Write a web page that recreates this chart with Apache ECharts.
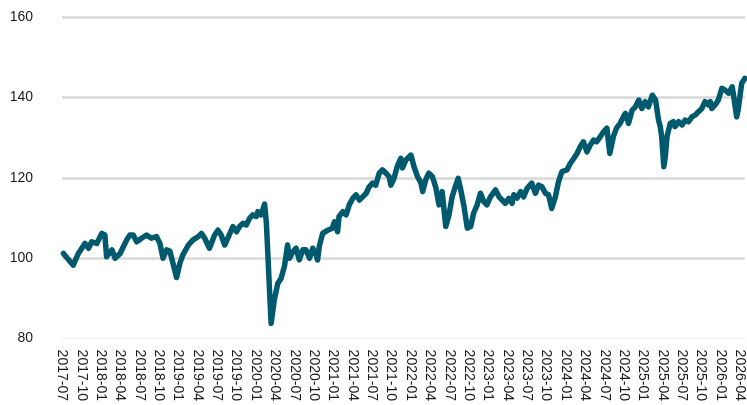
<!DOCTYPE html>
<html>
<head>
<meta charset="utf-8">
<script src="https://cdn.jsdelivr.net/npm/echarts@6/dist/echarts.min.js"></script>
<style>
html,body{margin:0;padding:0;background:#fff;}
#chart{width:747px;height:405px;}
</style>
</head>
<body>
<div id="chart"></div>
<script>
const dates = [
'2017-07-08','2017-08-02','2017-08-24','2017-09-17','2017-10-18','2017-11-04','2017-11-19','2017-12-13',
'2018-01-06','2018-01-21','2018-01-29','2018-02-22','2018-03-08','2018-04-01','2018-05-02','2018-05-17',
'2018-06-02','2018-06-18','2018-07-11','2018-08-04','2018-08-27','2018-09-20','2018-10-06','2018-10-21',
'2018-11-07','2018-11-22','2018-12-08','2018-12-24','2019-01-09','2019-01-23','2019-02-17','2019-03-10',
'2019-04-04','2019-04-19','2019-05-04','2019-05-27','2019-06-20','2019-07-06','2019-07-21','2019-08-07',
'2019-08-22','2019-09-15','2019-10-02','2019-10-16','2019-11-02','2019-11-17','2019-12-03','2019-12-18',
'2020-01-04','2020-01-11','2020-01-27','2020-02-12','2020-02-20','2020-02-27','2020-03-06','2020-03-13',
'2020-03-28','2020-04-14','2020-04-29','2020-05-15','2020-05-30','2020-06-08','2020-06-23','2020-07-09',
'2020-07-24','2020-08-10','2020-08-25','2020-09-11','2020-09-26','2020-10-12','2020-10-19','2020-10-27',
'2020-11-12','2020-12-06','2020-12-28','2021-01-07','2021-01-22','2021-01-29','2021-02-15','2021-03-01',
'2021-03-16','2021-04-02','2021-04-17','2021-05-03','2021-05-18','2021-06-04','2021-06-18','2021-07-04',
'2021-07-19','2021-08-05','2021-08-20','2021-09-06','2021-09-21','2021-09-29','2021-10-14','2021-10-29',
'2021-11-15','2021-11-23','2021-12-09','2022-01-02','2022-01-17','2022-02-03','2022-02-18','2022-02-25',
'2022-03-11','2022-03-26','2022-04-12','2022-04-27','2022-05-13','2022-05-28','2022-06-14','2022-06-29',
'2022-07-14','2022-07-29','2022-08-12','2022-08-23','2022-09-09','2022-09-24','2022-10-10','2022-10-24',
'2022-11-10','2022-11-25','2022-12-11','2022-12-26','2023-01-12','2023-02-05','2023-02-20','2023-03-06',
'2023-03-21','2023-04-07','2023-04-22','2023-04-30','2023-05-16','2023-06-02','2023-06-16','2023-07-02',
'2023-07-24','2023-08-11','2023-08-26','2023-09-11','2023-09-27','2023-10-12','2023-10-27','2023-11-13',
'2023-11-28','2023-12-14','2024-01-07','2024-01-23','2024-02-09','2024-02-23','2024-03-09','2024-03-24',
'2024-04-10','2024-04-25','2024-05-11','2024-05-26','2024-06-12','2024-06-27','2024-07-13','2024-07-27',
'2024-08-13','2024-08-28','2024-09-14','2024-09-29','2024-10-09','2024-10-24','2024-11-10','2024-11-25',
'2024-12-11','2024-12-26','2025-01-11','2025-01-26','2025-02-13','2025-02-27','2025-03-13','2025-03-21',
'2025-03-28','2025-04-07','2025-04-14','2025-04-22','2025-05-07','2025-05-22','2025-05-30','2025-06-16',
'2025-07-02','2025-07-17','2025-08-02','2025-08-18','2025-09-04','2025-09-18','2025-10-04','2025-10-19',
'2025-11-05','2025-11-13','2025-11-20','2025-12-06','2025-12-21','2026-01-07','2026-01-22','2026-02-08',
'2026-02-23','2026-03-01','2026-03-09','2026-03-16','2026-03-23','2026-04-09','2026-04-24'
];
const values = [
101.2,99.6,98.3,101.2,103.7,102.5,104.1,103.7,
106.2,105.8,100.4,102.1,100.0,101.2,104.6,105.8,
105.8,104.1,105.0,105.8,105.0,105.4,103.7,100.0,
102.1,101.8,98.5,95.2,98.8,100.8,103.3,104.6,
105.4,106.2,105.0,102.5,105.8,107.0,105.8,103.3,
105.0,107.9,106.6,107.9,108.7,108.3,110.0,110.8,
110.4,111.6,110.8,113.5,108.7,100.4,91.3,83.8,
89.6,93.8,95.0,98.0,103.3,100.0,101.6,102.5,
99.6,102.1,102.1,100.0,102.5,100.8,99.6,102.9,
106.2,107.0,107.5,109.1,106.6,110.4,111.6,110.8,
113.3,114.9,115.8,114.5,115.3,116.2,117.8,118.7,
118.2,121.2,122.0,121.2,120.3,118.2,119.9,122.8,
124.9,122.5,124.5,125.7,122.8,120.3,118.7,116.6,
119.5,121.2,120.3,117.8,113.3,116.6,107.9,110.8,
115.3,117.8,119.9,117.4,112.8,107.5,107.9,111.2,
113.3,116.2,114.1,113.3,115.3,117.0,115.3,114.5,
113.7,114.9,113.7,115.8,115.0,116.6,115.3,117.4,
118.7,116.2,118.2,117.8,116.2,115.8,112.4,115.3,
119.1,121.6,122.0,123.6,124.9,126.1,127.8,129.0,
126.5,128.2,129.4,129.0,130.3,131.5,132.4,126.1,
130.3,132.4,133.6,135.2,136.1,133.6,136.9,137.7,
139.4,137.3,139.0,137.7,140.6,139.4,134.4,132.8,
130.3,122.8,125.3,130.3,133.6,134.0,132.8,134.0,
133.2,134.4,134.0,135.2,135.7,136.5,137.3,139.0,
138.2,139.0,137.3,138.2,139.4,142.3,141.9,141.1,
142.7,140.6,137.7,135.2,136.9,143.6,144.8
];
const yTicks = [80, 100, 120, 140, 160];
const startYear = 2017, startMonth = 7;

function monthsSinceStart(s) {
  const [y, m, d] = s.split('-').map(Number);
  const dim = new Date(y, m, 0).getDate();
  return (y - startYear) * 12 + (m - startMonth) + (d - 1) / dim;
}
function monthLabel(v) {
  const r = Math.round(v);
  if (Math.abs(v - r) > 1e-6 || r % 3 !== 0) return '';
  const total = (startMonth - 1) + r;
  const y = startYear + Math.floor(total / 12);
  const m = total % 12 + 1;
  return y + '-' + (m < 10 ? '0' + m : m);
}
const seriesData = dates.map((d, i) => [monthsSinceStart(d), values[i]]);
const xMax = seriesData[seriesData.length - 1][0];

const chart = echarts.init(document.getElementById('chart'), null, {renderer: 'canvas'});
chart.setOption({
  animation: false,
  backgroundColor: '#ffffff',
  grid: {left: 62, right: 0, top: 17.3, bottom: 66.4, containLabel: false},
  xAxis: {
    type: 'value',
    min: 0,
    max: xMax,
    interval: 3,
    axisLine: {show: true, lineStyle: {color: '#eeeeee', width: 1}},
    axisTick: {show: false},
    splitLine: {show: false},
    axisLabel: {
      rotate: -90,
      margin: 11,
      fontSize: 14,
      fontFamily: 'Liberation Sans, Arial, sans-serif',
      color: '#1a1a1a',
      showMaxLabel: false,
      formatter: monthLabel
    }
  },
  yAxis: {
    type: 'value',
    min: yTicks[0],
    max: yTicks[yTicks.length - 1],
    interval: 20,
    axisLine: {show: false},
    axisTick: {show: false},
    splitLine: {show: true, showMinLine: false, lineStyle: {color: '#d9d9d9', width: 2.5}},
    axisLabel: {
      margin: 29,
      fontSize: 14,
      fontFamily: 'Liberation Sans, Arial, sans-serif',
      color: '#1a1a1a'
    }
  },
  series: [{
    type: 'line',
    data: seriesData,
    showSymbol: false,
    symbol: 'none',
    smooth: false,
    clip: false,
    lineStyle: {color: '#01596e', width: 5.5, join: 'round', cap: 'round'}
  }]
});
</script>
</body>
</html>
